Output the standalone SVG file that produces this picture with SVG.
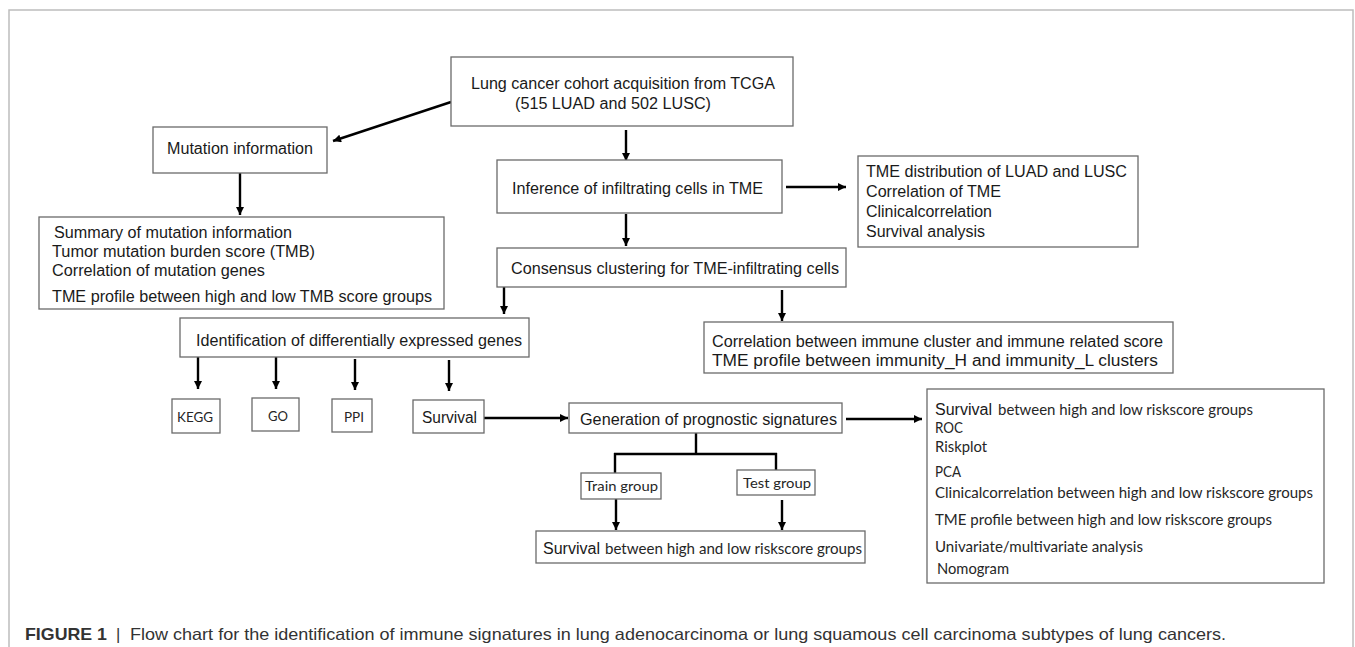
<svg xmlns="http://www.w3.org/2000/svg" width="1355" height="647" viewBox="0 0 1355 647">
<defs>
<style>
.frame{fill:none;stroke:#bdbdbd;stroke-width:1.5}
.box{fill:#fff;stroke:#6a6a6a;stroke-width:1.3}
.a{font-family:"Liberation Sans",Arial,sans-serif;font-size:16px;fill:#1a1a1a}
.c{font-family:Lato,"Liberation Sans",sans-serif;font-size:15px;fill:#262626}
.s{font-family:Lato,"Liberation Sans",sans-serif;font-size:14px;fill:#262626}
.ln{fill:none;stroke:#000;stroke-width:2.4}
.cap{font-family:"Liberation Sans",Arial,sans-serif;font-size:16.5px;fill:#333}
</style>
<marker id="ah" viewBox="0 0 10 10" refX="10" refY="5" markerWidth="9" markerHeight="8" markerUnits="userSpaceOnUse" orient="auto">
<path d="M0,0 L10,5 L0,10 z" fill="#000"/>
</marker>
</defs>
<rect width="1355" height="647" fill="#fff"/>
<path class="frame" d="M9,647 V10 H1353 V647"/>

<g id="connectors">
<line class="ln" x1="451" y1="102" x2="333" y2="141" marker-end="url(#ah)"/>
<line class="ln" x1="240" y1="173" x2="240" y2="215" marker-end="url(#ah)"/>
<line class="ln" x1="626" y1="130" x2="626" y2="161" marker-end="url(#ah)"/>
<line class="ln" x1="786" y1="187" x2="846" y2="187" marker-end="url(#ah)"/>
<line class="ln" x1="626" y1="214" x2="626" y2="246" marker-end="url(#ah)"/>
<line class="ln" x1="504" y1="287" x2="504" y2="314" marker-end="url(#ah)"/>
<line class="ln" x1="782" y1="290" x2="782" y2="321" marker-end="url(#ah)"/>
<line class="ln" x1="198" y1="357" x2="198" y2="389" marker-end="url(#ah)"/>
<line class="ln" x1="276" y1="357" x2="276" y2="389" marker-end="url(#ah)"/>
<line class="ln" x1="355" y1="359" x2="355" y2="390" marker-end="url(#ah)"/>
<line class="ln" x1="449" y1="360" x2="449" y2="391" marker-end="url(#ah)"/>
<line class="ln" x1="484" y1="418" x2="568" y2="418" marker-end="url(#ah)"/>
<line class="ln" x1="846" y1="419" x2="922" y2="419" marker-end="url(#ah)"/>
<path class="ln" d="M696,433 V454 M614,454 H777 M615,453 V473 M776,453 V470"/>
<line class="ln" x1="616" y1="499" x2="616" y2="530" marker-end="url(#ah)"/>
<line class="ln" x1="782" y1="500" x2="782" y2="530" marker-end="url(#ah)"/>
</g>

<g id="n-tcga">
<rect class="box" x="451" y="57" width="342" height="69"/>
<text class="a" x="471" y="89" textLength="304" lengthAdjust="spacingAndGlyphs">Lung cancer cohort acquisition from TCGA</text>
<text class="a" x="515" y="109" textLength="196" lengthAdjust="spacingAndGlyphs">(515 LUAD and 502 LUSC)</text>
</g>

<g id="n-mutation">
<rect class="box" x="153" y="127" width="174" height="46"/>
<text class="a" x="167" y="154" textLength="146" lengthAdjust="spacingAndGlyphs">Mutation information</text>
</g>

<g id="n-summary">
<rect class="box" x="39" y="217" width="405" height="92"/>
<text class="a" x="54" y="237.5" textLength="238" lengthAdjust="spacingAndGlyphs">Summary of mutation information</text>
<text class="a" x="52" y="256.5" textLength="263" lengthAdjust="spacingAndGlyphs">Tumor mutation burden score (TMB)</text>
<text class="a" x="52" y="275.5" textLength="213" lengthAdjust="spacingAndGlyphs">Correlation of mutation genes</text>
<text class="a" x="52" y="301.5" textLength="380" lengthAdjust="spacingAndGlyphs">TME profile between high and low TMB score groups</text>
</g>

<g id="n-inference">
<rect class="box" x="497" y="160" width="285" height="53"/>
<text class="a" x="512" y="193.5" textLength="251" lengthAdjust="spacingAndGlyphs">Inference of infiltrating cells in TME</text>
</g>

<g id="n-tmedist">
<rect class="box" x="858" y="156" width="280" height="91"/>
<text class="a" x="866" y="177" textLength="261" lengthAdjust="spacingAndGlyphs">TME distribution of LUAD and LUSC</text>
<text class="a" x="866" y="197" textLength="135" lengthAdjust="spacingAndGlyphs">Correlation of TME</text>
<text class="a" x="866" y="217" textLength="126" lengthAdjust="spacingAndGlyphs">Clinicalcorrelation</text>
<text class="a" x="866" y="237" textLength="119" lengthAdjust="spacingAndGlyphs">Survival analysis</text>
</g>

<g id="n-consensus">
<rect class="box" x="497" y="248" width="349" height="39"/>
<text class="a" x="511" y="273.5" textLength="328" lengthAdjust="spacingAndGlyphs">Consensus clustering for TME-infiltrating cells</text>
</g>

<g id="n-identification">
<rect class="box" x="180" y="318" width="349" height="39"/>
<text class="a" x="196" y="345.5" textLength="326" lengthAdjust="spacingAndGlyphs">Identification of differentially expressed genes</text>
</g>

<g id="n-correlation">
<rect class="box" x="704" y="322" width="469" height="51"/>
<text class="a" x="712" y="346.5" textLength="451" lengthAdjust="spacingAndGlyphs">Correlation between immune cluster and immune related score</text>
<text class="a" x="712" y="365.5" textLength="446" lengthAdjust="spacingAndGlyphs">TME profile between immunity_H and immunity_L clusters</text>
</g>

<g id="n-kegg">
<rect class="box" x="172" y="399" width="48" height="34"/>
<text class="s" x="177" y="422" textLength="36" lengthAdjust="spacingAndGlyphs">KEGG</text>
</g>
<g id="n-go">
<rect class="box" x="252" y="398" width="47" height="33"/>
<text class="s" x="268" y="421" textLength="20" lengthAdjust="spacingAndGlyphs">GO</text>
</g>
<g id="n-ppi">
<rect class="box" x="332" y="399" width="40" height="33"/>
<text class="s" x="344" y="422" textLength="20" lengthAdjust="spacingAndGlyphs">PPI</text>
</g>
<g id="n-survival">
<rect class="box" x="413" y="400" width="71" height="33"/>
<text class="a" x="422" y="422.5" textLength="55" lengthAdjust="spacingAndGlyphs">Survival</text>
</g>

<g id="n-generation">
<rect class="box" x="569" y="403" width="273" height="30"/>
<text class="a" x="580" y="424.5" textLength="257" lengthAdjust="spacingAndGlyphs">Generation of prognostic signatures</text>
</g>

<g id="n-train">
<rect class="box" x="581" y="473" width="80" height="26"/>
<text class="s" x="585" y="491" textLength="73" lengthAdjust="spacingAndGlyphs">Train group</text>
</g>
<g id="n-test">
<rect class="box" x="737" y="470" width="78" height="25"/>
<text class="s" x="743" y="488" textLength="68" lengthAdjust="spacingAndGlyphs">Test group</text>
</g>

<g id="n-survival-groups">
<rect class="box" x="536" y="531" width="329" height="32"/>
<text class="a" x="543" y="553.5" textLength="57" lengthAdjust="spacingAndGlyphs">Survival</text>
<text class="c" x="605" y="553.5" textLength="257" lengthAdjust="spacingAndGlyphs">between high and low riskscore groups</text>
</g>

<g id="n-results">
<rect class="box" x="927" y="389" width="397" height="194"/>
<text class="a" x="935" y="414.5" textLength="57" lengthAdjust="spacingAndGlyphs">Survival</text>
<text class="c" x="998" y="414.5" textLength="255" lengthAdjust="spacingAndGlyphs">between high and low riskscore groups</text>
<text class="c" x="935" y="433" textLength="28" lengthAdjust="spacingAndGlyphs">ROC</text>
<text class="c" x="935" y="452" textLength="52" lengthAdjust="spacingAndGlyphs">Riskplot</text>
<text class="c" x="935" y="477" textLength="26" lengthAdjust="spacingAndGlyphs">PCA</text>
<text class="c" x="935" y="498" textLength="378" lengthAdjust="spacingAndGlyphs">Clinicalcorrelation between high and low riskscore groups</text>
<text class="c" x="935" y="525" textLength="337" lengthAdjust="spacingAndGlyphs">TME profile between high and low riskscore groups</text>
<text class="c" x="935" y="552" textLength="208" lengthAdjust="spacingAndGlyphs">Univariate/multivariate analysis</text>
<text class="c" x="937" y="574" textLength="72" lengthAdjust="spacingAndGlyphs">Nomogram</text>
</g>

<g id="caption">
<text class="cap" x="25" y="640" font-weight="bold" fill="#222" textLength="82" lengthAdjust="spacingAndGlyphs">FIGURE 1</text>
<text class="cap" x="116" y="640" fill="#888">|</text>
<text class="cap" x="130" y="640" textLength="1096" lengthAdjust="spacingAndGlyphs">Flow chart for the identification of immune signatures in lung adenocarcinoma or lung squamous cell carcinoma subtypes of lung cancers.</text>
</g>
</svg>
